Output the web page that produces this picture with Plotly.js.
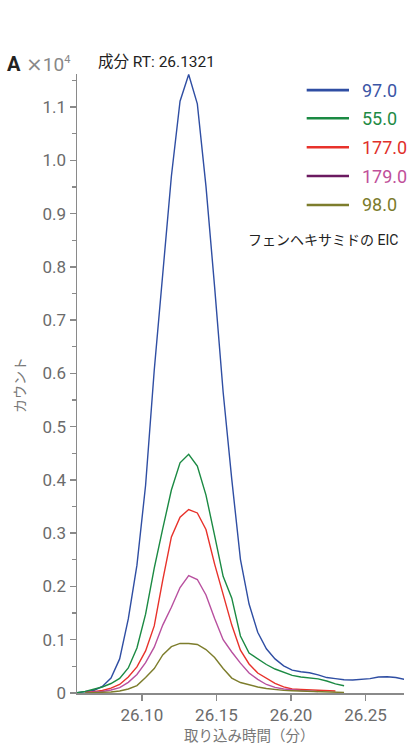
<!DOCTYPE html>
<html>
<head>
<meta charset="utf-8">
<script src="https://cdn.plot.ly/plotly-3.0.1.min.js"></script>
<style>
  html, body { margin: 0; padding: 0; background: #fff; }
  #chart { width: 408px; height: 745px; }
</style>
</head>
<body>
<div id="chart"></div>
<script>
// Retention time (min)
const times = [26.0562, 26.0620, 26.0677, 26.0735, 26.0793, 26.0851, 26.0909, 26.0967, 26.1025, 26.1083,
               26.1140, 26.1198, 26.1256, 26.1314, 26.1372, 26.1430, 26.1488, 26.1545, 26.1603, 26.1661,
               26.1719, 26.1777, 26.1835, 26.1893, 26.1951, 26.2008, 26.2066, 26.2124, 26.2182, 26.2240,
               26.2298, 26.2356, 26.2414, 26.2472, 26.2530, 26.2587, 26.2645, 26.2703, 26.2761, 26.2819];

// Counts for each ion (m/z)
const ion97  = [5, 20, 47, 122, 280, 640, 1390, 2400, 3900, 6060,
                7870, 9700, 11110, 11610, 11060, 9510, 7620, 5650, 4010, 2510,
                1670, 1140, 830, 640, 510, 430, 400, 380, 340, 290,
                270, 250, 245, 255, 270, 300, 305, 290, 255, 225];
const ion55  = [5, 28, 70, 113, 178, 275, 470, 845, 1480, 2345,
                3085, 3810, 4320, 4480, 4260, 3715, 2955, 2190, 1780, 1070,
                750, 640, 535, 450, 385, 330, 300, 280, 265, 225,
                170, 137, null, null, null, null, null, null, null, null];
const ion177 = [null, 5, 22, 47, 90, 160, 300, 490, 790, 1260,
                2120, 2930, 3300, 3445, 3380, 3070, 2420, 1840, 1275, 805,
                545, 375, 270, 180, 115, 75, 65, 56, 56, 50,
                38, null, null, null, null, null, null, null, null, null];
const ion179 = [null, 5, 13, 28, 56, 100, 200, 347, 570, 860,
                1275, 1610, 1980, 2205, 2130, 1840, 1400, 1000, 770, 560,
                375, 255, 160, 105, 75, 56, 47, 38, 25, null,
                null, null, null, null, null, null, null, null, null, null];
const ion98  = [null, 3, 4, 9, 19, 38, 75, 140, 290, 460,
                715, 870, 930, 930, 910, 815, 665, 460, 280, 197,
                150, 113, 85, 65, 50, 43, 38, 32, 26, 19,
                13, 9, null, null, null, null, null, null, null, null];

const seriesNames = ["97.0", "55.0", "177.0", "179.0", "98.0"];
const yTickVals = [0, 1000, 2000, 3000, 4000, 5000, 6000, 7000, 8000, 9000, 10000, 11000];
const yTickText = ["0", "0.1", "0.2", "0.3", "0.4", "0.5", "0.6", "0.7", "0.8", "0.9", "1.0", "1.1"];

const lineColors   = ["#2f4ea3", "#1b8a43", "#e8322b", "#b8509f", "#7d7d2c"];
const legendLine   = ["#2f4ea3", "#1b8a43", "#e8322b", "#6b1a60", "#7d7d2c"];
const legendText   = ["#3b55a5", "#1e8b45", "#e0302a", "#c0509a", "#7b7b2b"];
const seriesData = [ion97, ion55, ion177, ion179, ion98];

const FONT = "Roboto, 'Noto Sans CJK JP', sans-serif";

const traces = seriesData.map((ys, i) => ({
  type: "scatter",
  mode: "lines",
  x: times,
  y: ys,
  name: seriesNames[i],
  line: { color: lineColors[i], width: 1.4 },
  connectgaps: false,
  showlegend: false,
  hoverinfo: "x+y+name"
}));

// custom legend (paper coords)
const legYs = [0.974, 0.9285, 0.8816, 0.8352, 0.7884];
const shapes = [];
const annotations = [];
seriesNames.forEach((n, i) => {
  shapes.push({ type: "line", xref: "paper", yref: "paper", x0: 0.7024, x1: 0.8318,
                y0: legYs[i], y1: legYs[i], line: { color: legendLine[i], width: 2.6 } });
  annotations.push({ xref: "paper", yref: "paper", x: 0.866, y: legYs[i], xanchor: "left", yanchor: "middle",
                     text: n, showarrow: false, font: { family: FONT, size: 18, color: legendText[i] } });
});
annotations.push(
  { xref: "paper", yref: "paper", x: 0.752, y: 0.732, xanchor: "center", yanchor: "middle",
    text: "フェンヘキサミドの EIC", showarrow: false, font: { family: FONT, size: 14, color: "#222" } },
  { xref: "paper", yref: "paper", x: 0.2446, y: 1.019, xanchor: "center", yanchor: "middle",
    text: "成分 RT: 26.1321", showarrow: false, font: { family: FONT, size: 15.5, color: "#222" } },
  { xref: "paper", yref: "paper", x: -0.193, y: 1.016, xanchor: "center", yanchor: "middle",
    text: "<b>A</b>", showarrow: false, font: { family: FONT, size: 20, color: "#222" } },
  { xref: "paper", yref: "paper", x: -0.089, y: 1.016, xanchor: "center", yanchor: "middle",
    text: "<span style='font-family:DejaVu Sans;font-size:20px'>×</span>10<sup><span style='font-size:11px'>4</span></sup>",
    showarrow: false, font: { family: FONT, size: 19, color: "#888" } },
  { xref: "paper", yref: "paper", x: -0.174, y: 0.4976, xanchor: "center", yanchor: "middle",
    text: "カウント", textangle: -90, showarrow: false, font: { family: FONT, size: 14, color: "#777" } },
  { xref: "paper", yref: "paper", x: 0.526, y: -0.071, xanchor: "center", yanchor: "middle",
    text: "取り込み時間（分）", showarrow: false, font: { family: FONT, size: 14.5, color: "#777" } }
);

const layout = {
  width: 408, height: 745,
  margin: { l: 77, r: 4, t: 74, b: 52 },
  paper_bgcolor: "#fff", plot_bgcolor: "#fff",
  font: { family: FONT, color: "#6b6b6b" },
  xaxis: {
    range: [26.0565, 26.2758],
    tickmode: "linear", tick0: 26.10, dtick: 0.05, tickformat: ".2f",
    ticks: "outside", ticklen: 6, tickwidth: 1.5, tickcolor: "#8a8a8a",
    showline: true, linecolor: "#8a8a8a", linewidth: 1.5,
    showgrid: false, zeroline: false,
    tickfont: { family: FONT, size: 17, color: "#6b6b6b" },
    automargin: false, fixedrange: true
  },
  yaxis: {
    range: [0, 11620],
    tickmode: "array", tickvals: yTickVals, ticktext: yTickText,
    ticks: "outside", ticklen: 6, tickwidth: 1.5, tickcolor: "#8a8a8a",
    minor: { tickmode: "linear", tick0: 0, dtick: 500, ticks: "outside", ticklen: 4, tickwidth: 1.2, tickcolor: "#8a8a8a", showgrid: false },
    showline: true, linecolor: "#8a8a8a", linewidth: 1.5,
    showgrid: false, zeroline: false,
    tickfont: { family: FONT, size: 17, color: "#6b6b6b" },
    automargin: false, fixedrange: true
  },
  shapes: shapes,
  annotations: annotations,
  showlegend: false
};

Plotly.newPlot("chart", traces, layout, { displayModeBar: false, staticPlot: true });
</script>
</body>
</html>
